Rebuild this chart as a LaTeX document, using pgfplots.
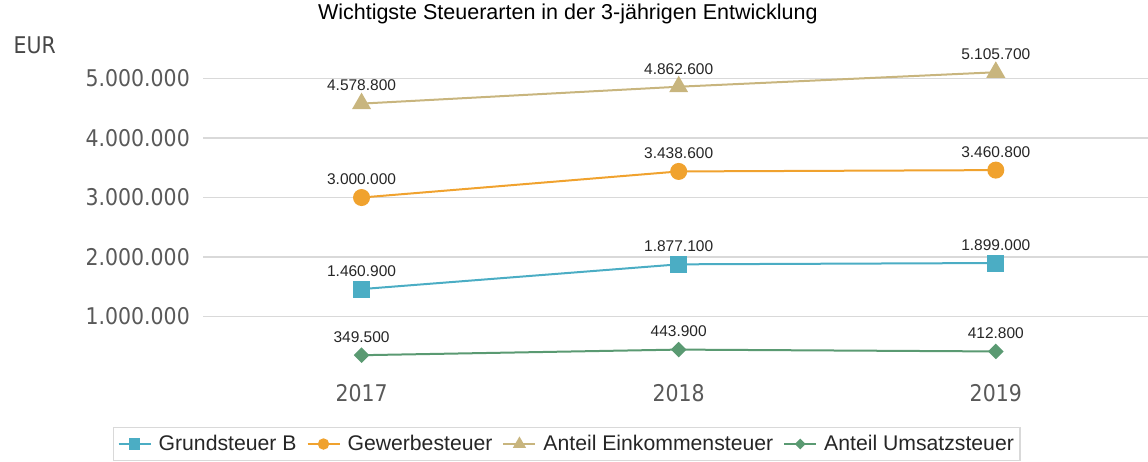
\documentclass[border=0pt]{standalone}
\usepackage{fontspec}
\setmainfont{Liberation Sans}
\newfontfamily\tickfont[FakeStretch=0.89]{DejaVu Sans}
\usepackage{pgfplots}
\pgfplotsset{compat=1.18}
\definecolor{cGrund}{HTML}{4BADC4}
\definecolor{cGewerbe}{HTML}{F0A22E}
\definecolor{cEink}{HTML}{C8B57E}
\definecolor{cUms}{HTML}{5A9A72}
\definecolor{cGrid}{HTML}{D9D9D9}
\definecolor{cTick}{HTML}{595959}
\definecolor{cText}{HTML}{262626}
\begin{document}
\begin{tikzpicture}
\path[use as bounding box] (0,0) rectangle (1148pt,461pt);
\begin{axis}[
  at={(203pt,85pt)}, anchor=south west,
  scale only axis, width=945pt, height=326pt,
  xmin=-0.5, xmax=2.48, ymin=0, ymax=5.48e6,
  clip=false,
  axis line style={draw=none},
  major tick length=0pt,
  xtick={0,1,2}, xticklabels={2017,2018,2019},
  ytick={1000000,2000000,3000000,4000000,5000000},
  ymajorgrids, grid style={cGrid, line width=1.5pt},
  scaled y ticks=false,
  /pgf/number format/.cd, fixed, precision=0, 1000 sep={.}, assume math mode=true,
  /pgfplots/.cd,
  yticklabel style={font=\tickfont\fontsize{23}{25}\selectfont, text=cTick, inner sep=0pt, anchor=east, xshift=-13pt},
  xticklabel style={font=\tickfont\fontsize{23}{25}\selectfont, text=cTick, inner sep=0pt, anchor=north, yshift=-8pt},
  title={Wichtigste Steuerarten in der 3-jährigen Entwicklung},
  title style={font=\fontsize{21.5}{24}\selectfont, text=black, at={(0.386,1.092)}, anchor=center, inner sep=0pt},
  point meta=explicit symbolic,
  nodes near coords,
  nodes near coords style={font=\fontsize{15.5}{17}\selectfont, text=cText, anchor=south, inner sep=0pt, yshift=11.5pt},
  legend columns=4,
  legend style={at={(-0.0952,-0.1564)}, anchor=north west, draw=cGrid, line width=1.2pt,
    font=\fontsize{21.2}{24}\selectfont, text=cText, inner xsep=4pt, inner ysep=6pt,
    /tikz/every odd column/.append style={column sep=5pt},
    /tikz/every even column/.append style={column sep=8pt}},
  legend image code/.code={\draw[#1, mark repeat=2, mark phase=2, /tikz/every mark/.append style={scale=0.62}] plot coordinates {(0pt,0pt) (16pt,0pt) (32pt,0pt)};},
  every axis plot/.append style={line width=2pt},
]
\addplot[color=cGrund, mark=square*, mark size=7.5pt, mark options={solid}] coordinates {
  (0,1460900) [1.460.900]
  (1,1877100) [1.877.100]
  (2,1899000) [1.899.000]
};
\addlegendentry{Grundsteuer B}
\addplot[color=cGewerbe, mark=*, mark size=7.5pt] coordinates {
  (0,3000000) [3.000.000]
  (1,3438600) [3.438.600]
  (2,3460800) [3.460.800]
};
\addlegendentry{Gewerbesteuer}
\addplot[color=cEink, mark=triangle*, mark size=9pt] coordinates {
  (0,4578800) [4.578.800]
  (1,4862600) [4.862.600]
  (2,5105700) [5.105.700]
};
\addlegendentry{Anteil Einkommensteuer}
\addplot[color=cUms, mark=square*, mark size=4.5pt, mark options={rotate=45}] coordinates {
  (0,349500) [349.500]
  (1,443900) [443.900]
  (2,412800) [412.800]
};
\addlegendentry{Anteil Umsatzsteuer}
\node[font=\tickfont\fontsize{23}{25}\selectfont, text=cTick!80!black, inner sep=0pt] at (rel axis cs:-0.178,1.015) {EUR};
\end{axis}
\end{tikzpicture}
\end{document}
